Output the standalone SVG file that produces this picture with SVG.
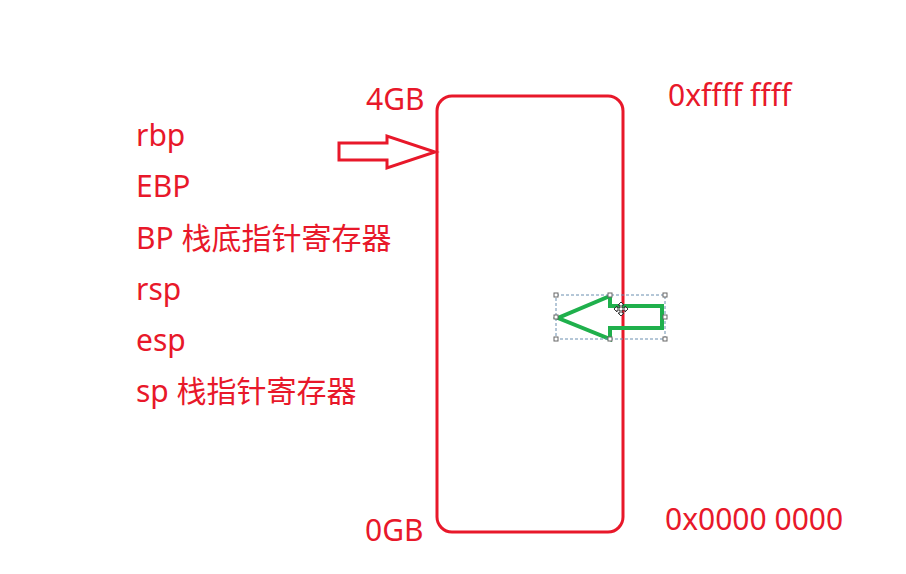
<svg xmlns="http://www.w3.org/2000/svg" width="906" height="574" viewBox="0 0 906 574">
<style>
.t{font-family:"Noto Sans","Noto Sans CJK SC",sans-serif;font-size:30px;fill:#e8182a}
.red{fill:none;stroke:#e8182a;stroke-width:3;stroke-linejoin:miter}
.green{fill:none;stroke:#1fb04c;stroke-width:4;stroke-linejoin:miter}
.sel{fill:none;stroke:#6a8fb0;stroke-width:1;stroke-dasharray:3 2}
.h{fill:#fff;stroke:#666;stroke-width:1}
</style>
<rect width="906" height="574" fill="#fff"/>
<g id="labels">
<text class="t" x="136" y="146">rbp</text>
<text class="t" x="136" y="197">EBP</text>
<text class="t" x="136" y="249">BP 栈底指针寄存器</text>
<text class="t" x="136" y="300">rsp</text>
<text class="t" x="136" y="351">esp</text>
<text class="t" x="136" y="402">sp 栈指针寄存器</text>
<text class="t" x="366" y="110">4GB</text>
<text class="t" x="365" y="541">0GB</text>
<text class="t" x="668" y="106">0xffff ffff</text>
<text class="t" x="665" y="530">0x0000 0000</text>
</g>
<g id="memory">
<rect class="red" x="437" y="96" width="186" height="436" rx="15"/>
</g>
<g id="connectors">
<path id="ebp-arrow" class="red" d="M339,143 H387 V136 L435,152 L387,168 V160 H339 Z"/>
<g id="esp-arrow">
<path class="green" d="M662,306 H610 V296 L558,318 L610,339 V328 H662 Z"/>
<rect class="sel" x="556" y="295" width="109" height="44"/>
<rect class="h" x="554" y="293" width="4" height="4"/>
<rect class="h" x="608" y="293" width="4" height="4"/>
<rect class="h" x="663" y="293" width="4" height="4"/>
<rect class="h" x="554" y="315" width="4" height="4"/>
<rect class="h" x="663" y="315" width="4" height="4"/>
<rect class="h" x="554" y="337" width="4" height="4"/>
<rect class="h" x="608" y="337" width="4" height="4"/>
<rect class="h" x="663" y="337" width="4" height="4"/>
<path d="M621,302 L624,305 H622 V308 H625 V306 L628,309 L625,312 V310 H622 V313 H624 L621,316 L618,313 H620 V310 H617 V312 L614,309 L617,306 V308 H620 V305 H618 Z" fill="#fff" stroke="#333" stroke-width="1"/>
</g>
</g>
</svg>
